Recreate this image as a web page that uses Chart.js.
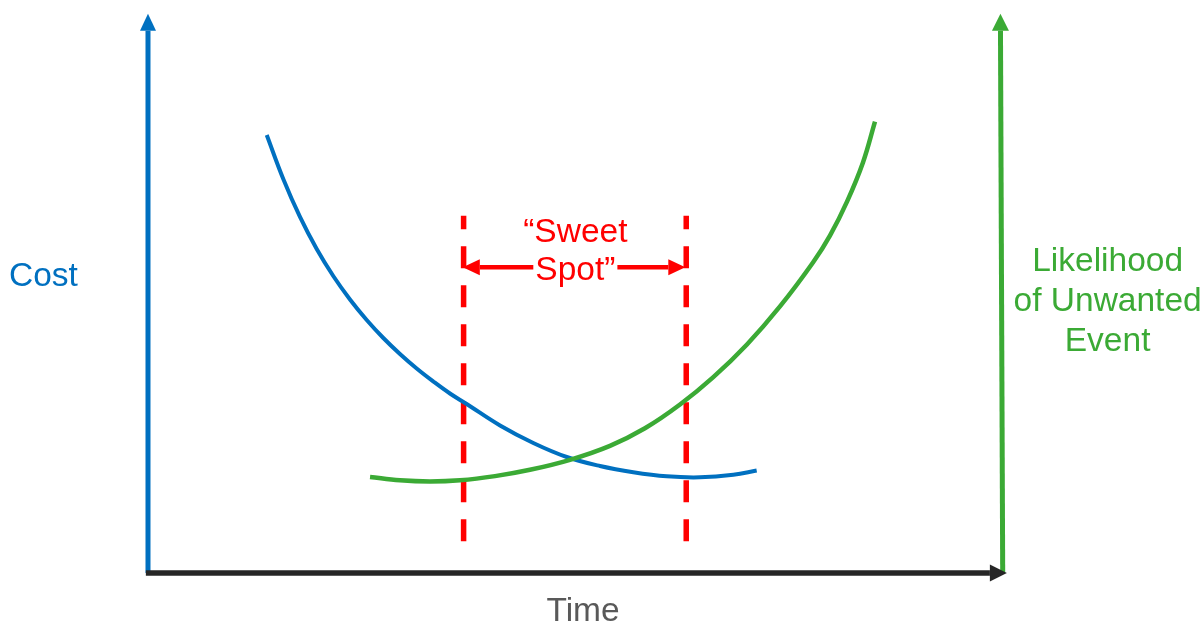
<!DOCTYPE html>
<html>
<head>
<meta charset="utf-8">
<script src="https://cdn.jsdelivr.net/npm/chart.js@4"></script>
<style>
  html, body { margin: 0; padding: 0; background: #fff; }
  #wrap { width: 1204px; height: 625px; position: relative; }
</style>
</head>
<body>
<div id="wrap"><canvas id="sweetSpotChart"></canvas></div>
<script>
// time runs 0..100 along the bottom axis, cost / likelihood 0..100 up the side axes
const costTime = [13.92, 15.86, 17.82, 19.78, 21.72, 23.68, 25.64, 27.59, 29.54, 31.50, 33.45, 35.40, 37.36, 41.27, 45.17, 49.09, 52.99, 56.89, 60.81, 64.71, 68.62, 71.36];
const costValue = [78.35, 70.48, 63.69, 57.96, 53.13, 48.93, 45.26, 42.04, 39.18, 36.58, 34.26, 32.11, 30.23, 26.39, 23.26, 20.75, 19.14, 18.03, 17.30, 17.12, 17.57, 18.34];

const riskTime = [26.03, 29.54, 33.06, 36.58, 40.68, 44.78, 49.47, 54.16, 58.26, 62.37, 66.24, 70.22, 74.09, 77.96, 79.95, 81.95, 83.82, 85.23];
const riskValue = [17.17, 16.58, 16.37, 16.58, 17.33, 18.46, 20.25, 22.75, 25.89, 30.14, 34.99, 40.89, 47.69, 55.55, 60.36, 66.44, 73.45, 80.75];

// "sweet spot" window
const sweetFrom = 37.0;
const sweetTo = 63.1;
const sweetBottom = 5.7;
const sweetTop = 63.9;
const sweetArrowLevel = 54.7;

const costLabel = 'Cost';
const timeLabel = 'Time';
const riskLabel = ['Likelihood', 'of Unwanted', 'Event'];
const sweetLabel = ['\u201cSweet', 'Spot\u201d'];

const BLUE = '#0070C0';
const GREEN = '#3BAA35';
const RED = '#FF0000';
const AXIS_DARK = '#262626';
const FONT = '33.5px "Liberation Sans", Arial, sans-serif';

const pts = (xs, ys) => xs.map((x, i) => ({ x: x, y: ys[i] }));

// arrow heads on the straight line datasets
const arrowHeads = {
    id: 'arrowHeads',
    afterDatasetsDraw(chart) {
        const ctx = chart.ctx;
        chart.data.datasets.forEach((ds, i) => {
            if (!ds.arrow) return;
            const p = chart.getDatasetMeta(i).data;
            const drawHead = (from, to) => {
                const ang = Math.atan2(to.y - from.y, to.x - from.x);
                const len = ds.arrow.length, half = ds.arrow.half;
                ctx.save();
                ctx.translate(to.x, to.y);
                ctx.rotate(ang);
                ctx.beginPath();
                ctx.moveTo(len, 0);
                ctx.lineTo(0, -half);
                ctx.lineTo(0, half);
                ctx.closePath();
                ctx.fillStyle = ds.borderColor;
                ctx.fill();
                ctx.restore();
            };
            if (ds.arrow.end) drawHead(p[p.length - 2], p[p.length - 1]);
            if (ds.arrow.start) drawHead(p[1], p[0]);
        });
    }
};

// text labels placed in data coordinates
const labels = {
    id: 'labels',
    afterDraw(chart) {
        const ctx = chart.ctx;
        const sx = chart.scales.x, sy = chart.scales.y;
        const X = v => sx.getPixelForValue(v);
        const Y = v => sy.getPixelForValue(v);
        ctx.save();
        ctx.font = FONT;
        ctx.textBaseline = 'alphabetic';

        ctx.fillStyle = BLUE;
        ctx.textAlign = 'left';
        ctx.fillText(costLabel, X(-16.3), Y(51.3));

        ctx.fillStyle = '#595959';
        ctx.textAlign = 'center';
        ctx.fillText(timeLabel, X(51.0), Y(-8.6));

        ctx.fillStyle = GREEN;
        [54.0, 46.9, 39.7].forEach((lv, i) => ctx.fillText(riskLabel[i], X(112.5), Y(lv)));

        // second line sits on the arrow, so clear a box behind it
        const w = ctx.measureText(sweetLabel[1]).width;
        ctx.fillStyle = '#fff';
        ctx.fillRect(X(50.1) - w / 2 - 2, Y(sweetArrowLevel) - 6, w + 4, 12);
        ctx.fillStyle = RED;
        ctx.fillText(sweetLabel[0], X(50.1), Y(59.2));
        ctx.fillText(sweetLabel[1], X(50.1), Y(52.4));
        ctx.restore();
    }
};

const ctx = document.getElementById('sweetSpotChart').getContext('2d');

new Chart(ctx, {
    type: 'line',
    data: {
        datasets: [
            {
                label: 'time axis',
                data: [{ x: -0.25, y: 0 }, { x: 98.7, y: 0 }],
                borderColor: AXIS_DARK,
                borderWidth: 5.5,
                arrow: { end: true, length: 17, half: 8.5 }
            },
            {
                label: 'sweet spot arrow',
                data: [{ x: 38.9, y: sweetArrowLevel }, { x: 61.0, y: sweetArrowLevel }],
                borderColor: RED,
                borderWidth: 4.5,
                arrow: { start: true, end: true, length: 17, half: 8 }
            },
            {
                label: 'Likelihood',
                data: pts(riskTime, riskValue),
                borderColor: GREEN,
                borderWidth: 4.5,
                tension: 0.4
            },
            {
                label: 'Cost',
                data: pts(costTime, costValue),
                borderColor: BLUE,
                borderWidth: 4,
                tension: 0.4
            },
            {
                label: 'sweet spot start',
                data: [{ x: sweetFrom, y: sweetBottom }, { x: sweetFrom, y: sweetTop }],
                borderColor: RED,
                borderWidth: 5.5,
                borderDash: [22, 17]
            },
            {
                label: 'sweet spot end',
                data: [{ x: sweetTo, y: sweetBottom }, { x: sweetTo, y: sweetTop }],
                borderColor: RED,
                borderWidth: 5.5,
                borderDash: [22, 17]
            },
            {
                label: 'cost axis',
                data: [{ x: 0, y: 0 }, { x: 0, y: 97.0 }],
                borderColor: BLUE,
                borderWidth: 5,
                arrow: { end: true, length: 17, half: 8 }
            },
            {
                label: 'likelihood axis',
                data: [{ x: 100.2, y: 0 }, { x: 99.94, y: 97.0 }],
                borderColor: GREEN,
                borderWidth: 5,
                arrow: { end: true, length: 17, half: 8.5 }
            }
        ]
    },
    options: {
        responsive: true,
        maintainAspectRatio: false,
        animation: false,
        layout: { padding: 0 },
        elements: {
            point: { radius: 0, hoverRadius: 0 },
            line: { fill: false }
        },
        plugins: {
            legend: { display: false },
            tooltip: { enabled: false }
        },
        scales: {
            x: { type: 'linear', min: -17.35, max: 123.8, display: false },
            y: { type: 'linear', min: -9.3, max: 102.5, display: false }
        }
    },
    plugins: [arrowHeads, labels]
});
</script>
</body>
</html>
